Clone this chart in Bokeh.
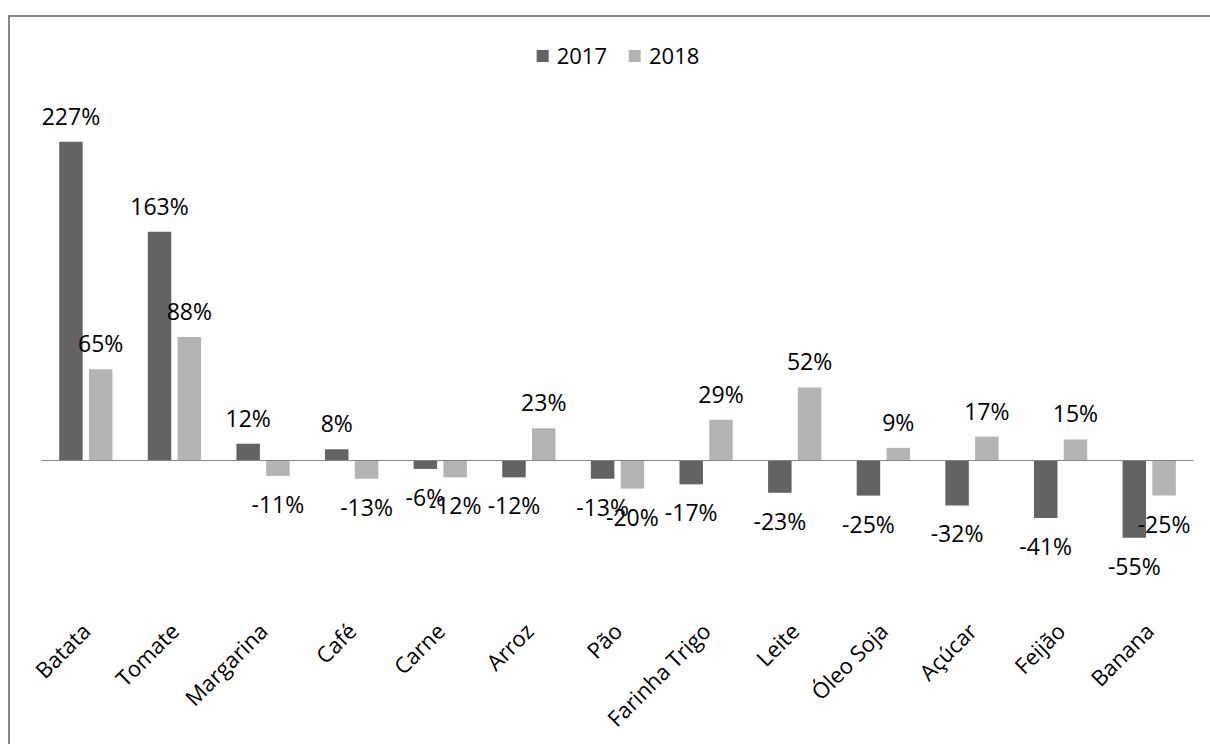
import math
from bokeh.plotting import figure
from bokeh.models import ColumnDataSource, Span, Range1d, FactorRange
from bokeh.transform import dodge
from bokeh.core.properties import value
from bokeh.embed import file_html
from bokeh.resources import INLINE

categories = ["Batata", "Tomate", "Margarina", "Café", "Carne", "Arroz", "Pão",
              "Farinha Trigo", "Leite", "Óleo Soja", "Açúcar", "Feijão", "Banana"]
v2017 = [227, 163, 12, 8, -6, -12, -13, -17, -23, -25, -32, -41, -55]
v2018 = [65, 88, -11, -13, -12, 23, -20, 29, 52, 9, 17, 15, -25]
series_names = ["2017", "2018"]

C17 = "#636363"
C18 = "#b3b3b3"
FONT = "Open Sans"
FS = "22px"
FS_LAB = "23px"

# layout (canvas px)
W, H = 1204, 729
BL, BR, BT, BB = 31, 21, 13, 161
ZERO_FROM_TOP = 430      # zero line px from frame top
PX = 1.404               # px per percent
frame_h = H - BT - BB
y_top = ZERO_FROM_TOP / PX
y_bot = -(frame_h - ZERO_FROM_TOP) / PX

def lab(vals):
    return [f"{v}%" for v in vals]

def offs(vals):
    return [-26 if v >= 0 else 28 for v in vals]

src = ColumnDataSource(dict(cat=categories, v17=v2017, v18=v2018,
                            l17=lab(v2017), l18=lab(v2018),
                            o17=offs(v2017), o18=offs(v2018)))

p = figure(width=W, height=H, x_range=FactorRange(*categories),
           y_range=Range1d(y_bot, y_top), output_backend="svg",
           toolbar_location=None, min_border_left=BL, min_border_right=BR,
           min_border_top=BT, min_border_bottom=BB)
p.margin = (15, 0, 0, 8)
p.styles = {"border-style": "solid", "border-color": "#878787",
            "border-width": "2px 0px 0px 2px"}

p.outline_line_color = None
p.xgrid.visible = False
p.ygrid.visible = False
p.yaxis.visible = False
p.background_fill_color = "white"
p.border_fill_color = "white"

OFF = 0.168
BW = 0.265
p.vbar(x=dodge("cat", -OFF, range=p.x_range), top="v17", width=BW, source=src,
       fill_color=C17, line_color=None, legend_label=series_names[0])
p.vbar(x=dodge("cat", OFF, range=p.x_range), top="v18", width=BW, source=src,
       fill_color=C18, line_color=None, legend_label=series_names[1])

p.add_layout(Span(location=0, dimension="width", line_color="#868686", line_width=1.2))

for key, lk, ok, dx in [("v17", "l17", "o17", -OFF), ("v18", "l18", "o18", OFF)]:
    p.text(x=dodge("cat", dx, range=p.x_range), y=key, text=lk, y_offset=ok,
           source=src, text_align="center", text_baseline="middle",
           text_font=value(FONT), text_font_size=FS_LAB, text_color="black")

ax = p.xaxis[0]
ax.major_label_orientation = math.pi / 4
ax.axis_line_color = None
ax.major_tick_line_color = None
ax.minor_tick_line_color = None
ax.major_label_text_font = FONT
ax.major_label_text_font_size = FS
ax.major_label_text_color = "black"
ax.major_label_standoff = 35

lg = p.legend[0]
lg.orientation = "horizontal"
lg.location = "top_center"
lg.border_line_color = None
lg.background_fill_alpha = 0
lg.glyph_width = 15
lg.glyph_height = 15
lg.label_standoff = 7
lg.spacing = 20
lg.label_text_font = FONT
lg.label_text_font_size = FS
lg.label_text_color = "black"
lg.margin = 10
lg.padding = 8

open("out.html", "w").write(file_html(p, INLINE))
